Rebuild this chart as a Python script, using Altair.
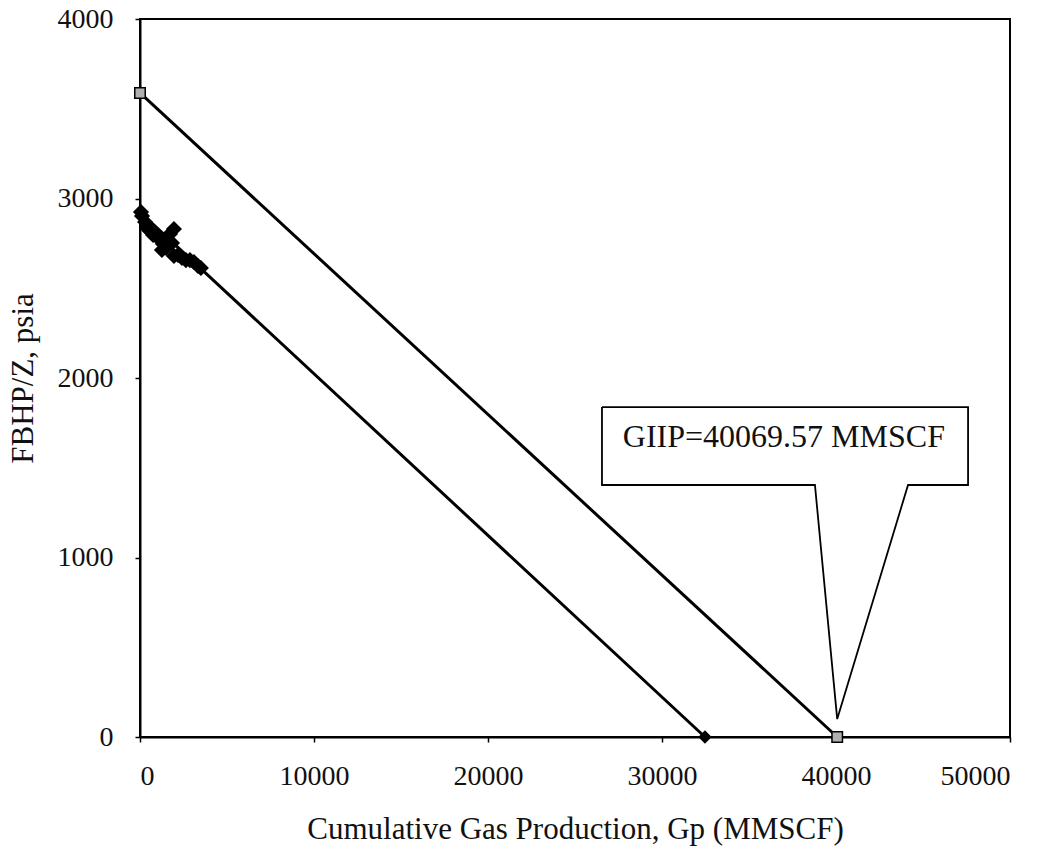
import altair as alt
import pandas as pd

# Observed flowing bottom-hole pressure over Z vs cumulative production
gp_obs = [57, 115, 290, 400, 575, 750, 980, 1150, 1320, 1260, 1500, 1720,
          1950, 1840, 1950, 2180, 2410, 2640, 2870, 3100, 3330, 3500]
pz_obs = [2925, 2903, 2869, 2836, 2819, 2797, 2791, 2769, 2747, 2713, 2724, 2802,
          2830, 2752, 2680, 2685, 2669, 2657, 2657, 2646, 2624, 2613]

# Straight-line fit through the observed points
fit_gp = [0, 32470]
fit_pz = [2924, 0]

# Corrected static line extrapolated to GIIP
giip_gp = [0, 40069.57]
giip_pz = [3588, 0]

# Callout outline (data units) and its label
callout_gp = [26550, 47590, 47590, 44140, 40069.57, 38790, 26550, 26550]
callout_pz = [1838, 1838, 1404, 1404, 100, 1404, 1404, 1838]
label_text = "GIIP=40069.57 MMSCF"
label_gp = 27750
label_pz = 1616

serif = "Liberation Serif"

x_scale = alt.Scale(domain=[0, 50000], nice=False, zero=False)
y_scale = alt.Scale(domain=[0, 4000], nice=False, zero=False)

x_axis = alt.Axis(title="Cumulative Gas Production, Gp (MMSCF)",
                  values=[0, 10000, 20000, 30000, 40000, 50000], format="d",
                  grid=False, tickSize=5, labelPadding=20, titlePadding=24,
                  titleFontSize=31)
y_axis = alt.Axis(title="FBHP/Z, psia", values=[0, 1000, 2000, 3000, 4000],
                  format="d", grid=False, tickSize=5, labelPadding=22,
                  titlePadding=18, titleFontSize=31)

obs_df = pd.DataFrame({"gp": gp_obs, "pz": pz_obs})
fit_df = pd.DataFrame({"gp": fit_gp, "pz": fit_pz})
giip_df = pd.DataFrame({"gp": giip_gp, "pz": giip_pz})
callout_df = pd.DataFrame({"gp": callout_gp, "pz": callout_pz,
                           "order": list(range(len(callout_gp)))})
label_df = pd.DataFrame({"gp": [label_gp], "pz": [label_pz], "t": [label_text]})

X = alt.X("gp:Q", scale=x_scale, axis=x_axis)
Y = alt.Y("pz:Q", scale=y_scale, axis=y_axis)

fit_line = alt.Chart(fit_df).mark_line(color="black", strokeWidth=3).encode(x=X, y=Y)
fit_end = alt.Chart(fit_df[fit_df.pz == 0]).mark_point(
    shape="diamond", filled=True, color="black", size=180, opacity=1
).encode(x=X, y=Y)

giip_line = alt.Chart(giip_df).mark_line(color="black", strokeWidth=3).encode(x=X, y=Y)
giip_pts = alt.Chart(giip_df).mark_point(
    shape="square", filled=True, fill="#b0b0b0", stroke="black", strokeWidth=1.5,
    size=110, opacity=1
).encode(x=X, y=Y)

obs_pts = alt.Chart(obs_df).mark_point(
    shape="diamond", filled=True, color="black", size=260, opacity=1
).encode(x=X, y=Y)

callout = alt.Chart(callout_df).mark_line(color="black", strokeWidth=1.8).encode(
    x=X, y=Y, order="order:Q")
label = alt.Chart(label_df).mark_text(
    font=serif, fontSize=32, align="left", baseline="alphabetic", color="#111"
).encode(x=X, y=Y, text="t:N")

chart = alt.layer(
    callout, label, giip_line, fit_line, obs_pts, fit_end, giip_pts
).properties(
    width=870, height=718,
    autosize="none",
    background="white",
    padding={"left": 140, "top": 19, "right": 53, "bottom": 120},
).configure_view(
    stroke="black", strokeWidth=2
).configure_axis(
    domainColor="black", domainWidth=2, tickColor="black", tickWidth=1.5,
    labelFont=serif, titleFont=serif, labelFontSize=28, titleFontSize=31,
    labelColor="#111", titleColor="#111", titleFontWeight="normal"
)

chart.save("out.html", embed_options={"renderer": "svg", "actions": False})
